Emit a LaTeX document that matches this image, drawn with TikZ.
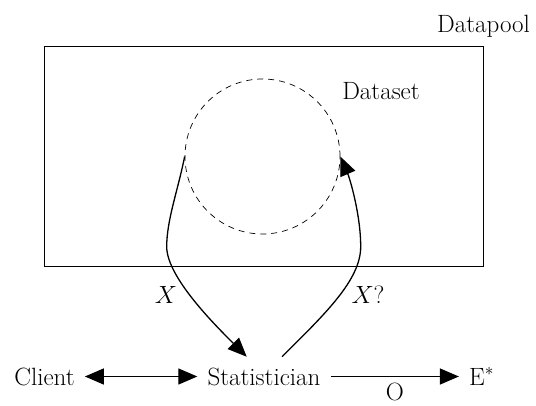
\documentclass[tikz,border=0pt]{standalone}
\usepackage{amsmath}
\usetikzlibrary{arrows.meta}
\begin{document}
\begin{tikzpicture}[x=1pt,y=1pt,
  font=\fontsize{25}{30}\selectfont,
  lbl/.style={inner sep=0pt,anchor=base},
  conn/.style={line width=1.3pt,-{Triangle[length=19pt,width=16pt]}},
  dconn/.style={line width=1.3pt,{Triangle[length=19pt,width=16pt]}-{Triangle[length=19pt,width=16pt]}},
  endpt/.style={inner xsep=10pt,inner ysep=0pt,text height=17pt,text depth=0pt,anchor=base}]
\useasboundingbox (0,0) rectangle (536,405);
% Datapool rectangle
\node[draw,line width=0.9pt,minimum width=438.5pt,minimum height=219.5pt,inner sep=0pt] (pool) at (264,248.5) {};
\node[lbl] (pooltxt) at (483.5,372) {Datapool};
% Dataset circle
\node[draw,circle,dashed,dash pattern=on 6pt off 5pt,line width=0.7pt,minimum size=155pt,inner sep=0pt] (ds) at (262.5,248.5) {};
\node[lbl] (dstxt) at (381,305.7) {Dataset};
% Bottom row
\node[endpt] (client) at (44.5,20) {Client};
\node[endpt] (stat) at (264,20) {Statistician};
\node[endpt] (estar) at (481.5,20) {E$^{*}$};
\coordinate (sin) at (246.7,48.3);
\coordinate (sout) at (282,48.3);
\coordinate (lm) at (166.7,158.3);
\coordinate (rm) at (360.7,158.3);
% connectors
\draw[conn] (ds.west) .. controls (178,215) and (166.7,185) .. (lm)
  .. controls (166.7,128) and (215,80) .. (sin);
\draw[conn] (sout) .. controls (325,91) and (360.7,125) .. (rm)
  .. controls (360.7,190) and (350,226) .. (ds.east);
\draw[dconn] (client) -- (stat);
\draw[conn] (stat) -- node[midway,lbl,yshift=-24pt] (olab) {O} (estar);
% labels
\node[lbl] (xl) at (166,101.7) {$X$};
\node[lbl] (xr) at (368,101.7) {$X$?};
\end{tikzpicture}
\end{document}
